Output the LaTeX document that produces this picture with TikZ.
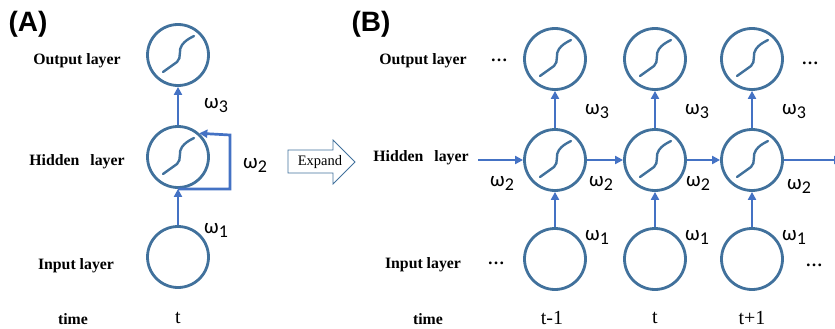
\documentclass[tikz,border=0pt]{standalone}
\usepackage{fontspec}
\setmainfont{Liberation Serif}
\newfontfamily\sansA{Liberation Sans}
\newfontfamily\omfont{Carlito}
\usetikzlibrary{arrows.meta}
\definecolor{circblue}{RGB}{65,113,156}
\definecolor{arrblue}{RGB}{68,114,196}
\newcommand\omg[1]{{\omfont ω\raisebox{-0.4ex}{\fontsize{18}{19}\selectfont #1}}}
\begin{document}
\begin{tikzpicture}[x=1pt,y=-1pt,
  neuron/.style={circle,draw=circblue,line width=2.8pt,minimum size=61pt,inner sep=0pt},
  conn/.style={draw=arrblue,line width=2.7pt,-{Triangle[length=8pt,width=8pt]}},
  lbl/.style={font=\fontsize{15.8}{18}\selectfont\bfseries,inner sep=0pt},
  om/.style={font=\fontsize{21}{22}\selectfont,inner sep=0pt},
  tl/.style={font=\fontsize{20}{22}\selectfont,inner sep=0pt},
  dots/.style={font=\fontsize{17}{18}\selectfont\bfseries,inner sep=0pt},
  sig/.pic={\draw[circblue,line width=2.4pt,line cap=round]
     (-15,17) -- (-1,7) .. controls (4,3) and (0,-6) .. (4,-10)
     .. controls (7,-14) and (10,-16) .. (16,-19);}
]
\useasboundingbox (0,0) rectangle (835,329);
% panel labels
\node[font=\sansA\bfseries\fontsize{28}{30}\selectfont,inner sep=0pt] (pa) at (28,24) {(A)};
\node[font=\sansA\bfseries\fontsize{28}{30}\selectfont,inner sep=0pt] (pb) at (371,24) {(B)};
% ---------- A ----------
\node[neuron] (ao) at (178,55) {};
\node[neuron] (ah) at (178,157) {};
\node[neuron] (ai) at (178,257) {};
\pic at (ao) {sig};
\pic at (ah) {sig};
\draw[conn] (ah) -- (ao);
\draw[conn] (ai) -- (ah);
\coordinate (aloop) at (230,135);
\draw[conn] (ah.south) -| (aloop) -- (ah.48);
\node[om] (aw3) at (216,106) {\omg{3}};
\node[om] (aw2) at (255,165) {\omg{2}};
\node[om] (aw1) at (216,230) {\omg{1}};
\node[lbl] (alo) at (77,61) {Output layer};
\node[lbl] (alh) at (77,162) {Hidden\hspace{0.7em}layer};
\node[lbl] (ali) at (76,266) {Input layer};
\node[lbl] (alt) at (73,319) {time};
\node[tl] (at) at (178,318) {t};
% ---------- Expand ----------
\draw[circblue,line width=0.8pt] (288,150) -- (333,150) -- (333,140) -- (355,162)
  -- (333,184) -- (333,173) -- (288,173) -- cycle;
\node[font=\fontsize{14.5}{16}\selectfont,inner sep=0pt] (exp) at (320,162) {Expand};
% ---------- B ----------
\foreach \i/\x in {1/555,2/655,3/752}{
  \node[neuron] (bo\i) at (\x,59) {};
  \node[neuron] (bh\i) at (\x,160) {};
  \node[neuron] (bi\i) at (\x,259) {};
  \pic at (bo\i) {sig};
  \pic at (bh\i) {sig};
  \draw[conn] (bh\i) -- (bo\i);
  \draw[conn] (bi\i) -- (bh\i);
  \node[om] (bw3\i) at (\x+42,112) {\omg{3}};
  \node[om] (bw1\i) at (\x+42,237) {\omg{1}};
}
\coordinate (hin) at (478,160);
\coordinate (hout) at (842,160);
\draw[conn] (hin) -- (bh1);
\draw[conn] (bh1) -- (bh2);
\draw[conn] (bh2) -- (bh3);
\draw[conn] (bh3) -- (hout);
\node[om] (bw20) at (502,183) {\omg{2}};
\node[om] (bw21) at (601,183) {\omg{2}};
\node[om] (bw22) at (698,183) {\omg{2}};
\node[om] (bw23) at (799,186) {\omg{2}};
\node[lbl] (blo) at (423,61) {Output layer};
\node[lbl] (blh) at (421,158) {Hidden\hspace{0.7em}layer};
\node[lbl] (bli) at (423,265) {Input layer};
\node[lbl] (blt) at (428,319) {time};
\node[dots] (d1) at (499,60) {…};
\node[dots] (d2) at (496,263) {…};
\node[dots] (d3) at (810,63) {…};
\node[dots] (d4) at (814,265) {…};
\node[tl] (bt1) at (552,318) {t-1};
\node[tl] (bt2) at (655,318) {t};
\node[tl] (bt3) at (752,318) {t+1};
\end{tikzpicture}
\end{document}
